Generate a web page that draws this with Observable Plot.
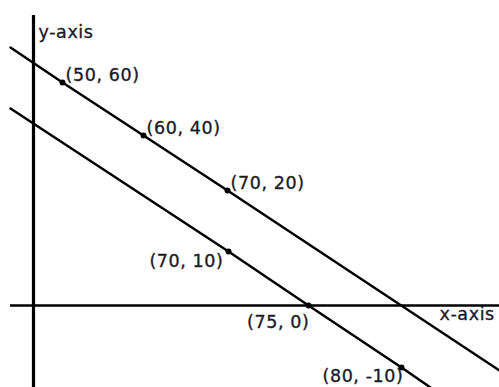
<!DOCTYPE html>
<html>
<head>
<meta charset="utf-8">
<script src="https://cdn.jsdelivr.net/npm/d3@7"></script>
<script src="https://cdn.jsdelivr.net/npm/@observablehq/plot@0.6"></script>
<style>
  html, body { margin: 0; padding: 0; background: #fff; }
  #chart { width: 499px; height: 387px; overflow: hidden; }
</style>
</head>
<body>
<div id="chart"></div>
<script>
// Sketch (not-to-scale) diagram: positions are in the sketch's own units,
// origin where the drawn x-axis and y-axis cross.
const pointLabels = ["(50, 60)", "(60, 40)", "(70, 20)", "(70, 10)", "(75, 0)", "(80, -10)"];
const pointX = [29, 110, 194, 195, 275, 368];
const pointY = [223, 170, 115, 54, 0, -62];
const labelSide = ["right", "right", "right", "left", "below", "bottom"];

// The two parallel lines (end points at the edges of the sketch, through the points)
const upperLineX = [-23, 29, 110, 194, 466];
const upperLineY = [258, 223, 170, 115, -65];
const lowerLineX = [-23, 195, 275, 368, 397];
const lowerLineY = [197, 54, 0, -62, -82];

const axisNames = ["x-axis", "y-axis"];
const axisNameX = [406, 5];
const axisNameY = [-9, 273];

const xDomain = [-33, 466];
const yDomain = [-82, 305];
const yAxisTop = 290;
const xAxisLeft = -23;

const points = pointLabels.map((label, i) => ({label, x: pointX[i], y: pointY[i], side: labelSide[i]}));
const upper = upperLineX.map((x, i) => ({x, y: upperLineY[i]}));
const lower = lowerLineX.map((x, i) => ({x, y: lowerLineY[i]}));
const axisText = axisNames.map((t, i) => ({t, x: axisNameX[i], y: axisNameY[i]}));

const font = {fontFamily: "DejaVu Sans", fontSize: 17.5, fill: "#1b1b26", stroke: "#1b1b26", strokeWidth: 0.35};
const bySide = s => points.filter(d => d.side === s);

const chart = Plot.plot({
  width: 499,
  height: 387,
  margin: 0,
  x: {domain: xDomain, axis: null},
  y: {domain: yDomain, axis: null},
  style: {background: "#fff", overflow: "hidden"},
  marks: [
    Plot.ruleY([0], {x1: xAxisLeft, x2: xDomain[1], stroke: "#000", strokeWidth: 2.4}),
    Plot.ruleX([0], {y1: yDomain[0], y2: yAxisTop, stroke: "#000", strokeWidth: 3.2}),
    Plot.line(upper, {x: "x", y: "y", stroke: "#000", strokeWidth: 2.5}),
    Plot.line(lower, {x: "x", y: "y", stroke: "#000", strokeWidth: 2.5}),
    Plot.dot(points, {x: "x", y: "y", r: 3, fill: "#000", stroke: null}),
    Plot.text(bySide("right"), {x: "x", y: "y", text: "label", textAnchor: "start", dx: 3, dy: -7, ...font}),
    Plot.text(bySide("left"), {x: "x", y: "y", text: "label", textAnchor: "end", dx: -5, dy: 10, ...font}),
    Plot.text(bySide("below"), {x: "x", y: "y", text: "label", textAnchor: "end", dx: 1, dy: 17, ...font}),
    Plot.text(bySide("bottom"), {x: "x", y: "y", text: "label", textAnchor: "end", dx: 2, dy: 9, ...font}),
    Plot.text(axisText, {x: "x", y: "y", text: "t", textAnchor: "start", ...font})
  ]
});
chart.querySelectorAll("text").forEach(t => t.setAttribute("letter-spacing", "0.6"));
document.getElementById("chart").appendChild(chart);
</script>
</body>
</html>
